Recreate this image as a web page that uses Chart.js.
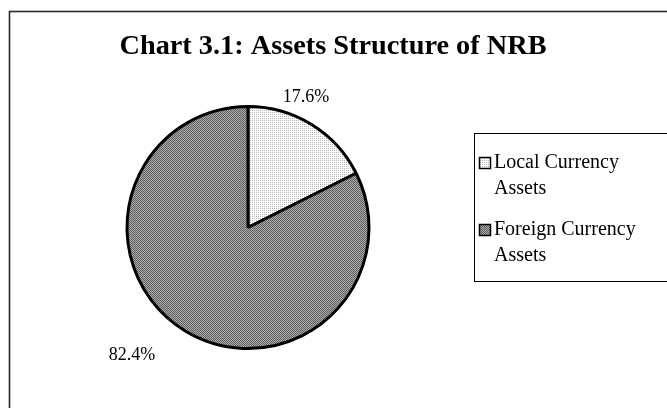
<!DOCTYPE html>
<html>
<head>
<meta charset="utf-8">
<script src="https://cdn.jsdelivr.net/npm/chart.js@4/dist/chart.umd.min.js"></script>
<style>
html,body{margin:0;padding:0;background:#fff;}
#wrap{width:667px;height:408px;position:relative;}
</style>
</head>
<body>
<div id="wrap"><canvas id="c" width="667" height="408"></canvas></div>
<script>
const titleText = 'Chart 3.1: Assets Structure of NRB';
const categories = ['Local Currency Assets', 'Foreign Currency Assets'];
const legendLines = [['Local Currency', 'Assets'], ['Foreign Currency', 'Assets']];
const shares = [17.6, 82.4];
const pctLabels = ['17.6%', '82.4%'];

const SERIF = "'Liberation Serif', 'Times New Roman', serif";

function makePattern(size, bg, fg, cells) {
  const pc = document.createElement('canvas');
  pc.width = size; pc.height = size;
  const g = pc.getContext('2d');
  g.fillStyle = bg; g.fillRect(0, 0, size, size);
  g.fillStyle = fg;
  cells.forEach(([x, y]) => g.fillRect(x, y, 1, 1));
  return document.getElementById('c').getContext('2d').createPattern(pc, 'repeat');
}
const lightPat = makePattern(2, '#ffffff', '#b4b4b4', [[0, 0]]);
const darkPat = makePattern(2, '#acacac', '#5e5e5e', [[0, 0], [1, 1]]);
const fills = [lightPat, darkPat];

// label offsets (style only): relative shift from the outside anchor point
const labelShift = [[-17, -9], [-41, 6]];

const decor = {
  id: 'decor',
  afterDraw(chart) {
    const ctx = chart.ctx;
    ctx.save();
    // outer frame
    ctx.strokeStyle = '#2a2a2a';
    ctx.lineWidth = 1.6;
    ctx.strokeRect(9.5, 11.5, 700, 420);
    // title
    ctx.fillStyle = '#000';
    ctx.font = 'bold 28.3px ' + SERIF;
    ctx.textAlign = 'center';
    ctx.textBaseline = 'middle';
    ctx.fillText(titleText, 333, 47);
    // percentage labels
    const meta = chart.getDatasetMeta(0);
    ctx.font = '18px ' + SERIF;
    meta.data.forEach((arc, i) => {
      const p = arc.getProps(['x', 'y', 'startAngle', 'endAngle', 'outerRadius'], true);
      const mid = (p.startAngle + p.endAngle) / 2;
      const d = p.outerRadius + 22;
      const lx = p.x + Math.cos(mid) * d + labelShift[i][0];
      const ly = p.y + Math.sin(mid) * d + labelShift[i][1];
      ctx.fillText(pctLabels[i], lx, ly);
    });
    // legend
    ctx.strokeStyle = '#000';
    ctx.lineWidth = 1;
    ctx.strokeRect(474.5, 133.5, 240, 148);
    ctx.font = '20px ' + SERIF;
    ctx.textAlign = 'left';
    const tops = [163, 230];
    categories.forEach((c, i) => {
      const y = tops[i];
      ctx.fillStyle = fills[i];
      ctx.fillRect(479, y - 6, 12, 12);
      ctx.strokeStyle = '#000';
      ctx.lineWidth = 1.5;
      ctx.strokeRect(479.5, y - 5.5, 11, 11);
      ctx.fillStyle = '#000';
      legendLines[i].forEach((t, k) => ctx.fillText(t, 494, y + k * 25.5));
    });
    ctx.restore();
  }
};

new Chart(document.getElementById('c'), {
  type: 'pie',
  data: {
    labels: categories,
    datasets: [{
      data: shares,
      backgroundColor: fills,
      borderColor: '#000',
      borderWidth: 3,
      borderAlign: 'center'
    }]
  },
  options: {
    responsive: false,
    animation: false,
    devicePixelRatio: 1,
    layout: { padding: { top: 105, bottom: 58, left: 125, right: 296 } },
    plugins: {
      legend: { display: false },
      title: { display: false },
      tooltip: { enabled: false }
    }
  },
  plugins: [decor]
});
</script>
</body>
</html>
